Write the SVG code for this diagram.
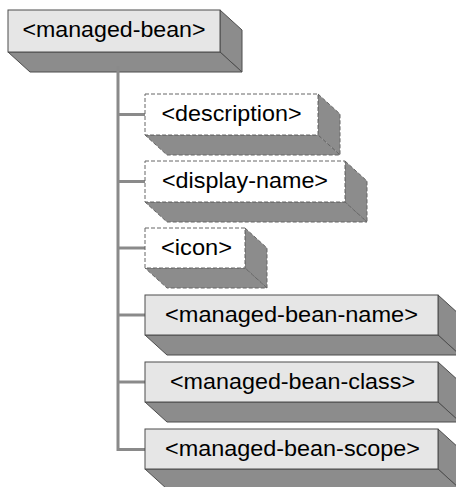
<svg xmlns="http://www.w3.org/2000/svg" width="456" height="487" viewBox="0 0 456 487">
  <style>
    .bg { fill: #ffffff; }
    .face-solid { fill: #e6e6e6; stroke: #4d4d4d; stroke-width: 1; }
    .face-dash { fill: #ffffff; stroke: #666666; stroke-width: 1; stroke-dasharray: 4 2; }
    .depth-solid { fill: #8c8c8c; stroke: #4d4d4d; stroke-width: 1; stroke-linejoin: round; }
    .depth-dash { fill: #8c8c8c; stroke: #666666; stroke-width: 1; stroke-dasharray: 4 2; }
    .label { font-family: "Liberation Sans", Arial, sans-serif; font-size: 22.5px; fill: #000000; text-anchor: middle; }
    .wire { fill: none; stroke: #8a8a8a; stroke-width: 3; }
  </style>
  <rect class="bg" x="0" y="0" width="456" height="487"/>

  <!-- root element -->
  <g id="managed-bean">
    <polygon class="depth-solid" points="220,10 242,30 242,72 220,52"/>
    <polygon class="depth-solid" points="8,52 220,52 242,72 30,72"/>
    <rect class="face-solid" x="8" y="10" width="212" height="42"/>
  </g>

  <!-- tree connectors -->
  <g id="connectors">
    <path class="wire" d="M118,66 V449.5 H145"/>
    <path class="wire" d="M118,114.5 H145"/>
    <path class="wire" d="M118,181.5 H145"/>
    <path class="wire" d="M118,248 H145"/>
    <path class="wire" d="M118,315 H145"/>
    <path class="wire" d="M118,382 H145"/>
  </g>

  <g id="managed-bean-label">
    <text class="label" x="114" y="37" textLength="183" lengthAdjust="spacingAndGlyphs">&lt;managed-bean&gt;</text>
  </g>

  <g id="description">
    <polygon class="depth-dash" points="318,94 340,114 340,155 318,135"/>
    <polygon class="depth-dash" points="145,135 318,135 340,155 167,155"/>
    <rect class="face-dash" x="145" y="94" width="173" height="41"/>
    <text class="label" x="231.5" y="121" textLength="140" lengthAdjust="spacingAndGlyphs">&lt;description&gt;</text>
  </g>

  <g id="display-name">
    <polygon class="depth-dash" points="345,161 367,181 367,222 345,202"/>
    <polygon class="depth-dash" points="145,202 345,202 367,222 167,222"/>
    <rect class="face-dash" x="145" y="161" width="200" height="41"/>
    <text class="label" x="245" y="188" textLength="166" lengthAdjust="spacingAndGlyphs">&lt;display-name&gt;</text>
  </g>

  <g id="icon">
    <polygon class="depth-dash" points="245,228 267,248 267,288 245,268"/>
    <polygon class="depth-dash" points="145,268 245,268 267,288 167,288"/>
    <rect class="face-dash" x="145" y="228" width="100" height="40"/>
    <text class="label" x="196.5" y="254.5" textLength="71" lengthAdjust="spacingAndGlyphs">&lt;icon&gt;</text>
  </g>

  <g id="managed-bean-name">
    <polygon class="depth-solid" points="438,295 460,315 460,355 438,335"/>
    <polygon class="depth-solid" points="145,335 438,335 460,355 167,355"/>
    <rect class="face-solid" x="145" y="295" width="293" height="40"/>
    <text class="label" x="291.5" y="321.5" textLength="253" lengthAdjust="spacingAndGlyphs">&lt;managed-bean-name&gt;</text>
  </g>

  <g id="managed-bean-class">
    <polygon class="depth-solid" points="438,362 460,382 460,422 438,402"/>
    <polygon class="depth-solid" points="145,402 438,402 460,422 167,422"/>
    <rect class="face-solid" x="145" y="362" width="293" height="40"/>
    <text class="label" x="292.5" y="388.5" textLength="245" lengthAdjust="spacingAndGlyphs">&lt;managed-bean-class&gt;</text>
  </g>

  <g id="managed-bean-scope">
    <polygon class="depth-solid" points="438,429 460,449 460,489 438,469"/>
    <polygon class="depth-solid" points="145,469 438,469 460,489 167,489"/>
    <rect class="face-solid" x="145" y="429" width="293" height="40"/>
    <text class="label" x="292.5" y="455.5" textLength="255" lengthAdjust="spacingAndGlyphs">&lt;managed-bean-scope&gt;</text>
  </g>
</svg>
